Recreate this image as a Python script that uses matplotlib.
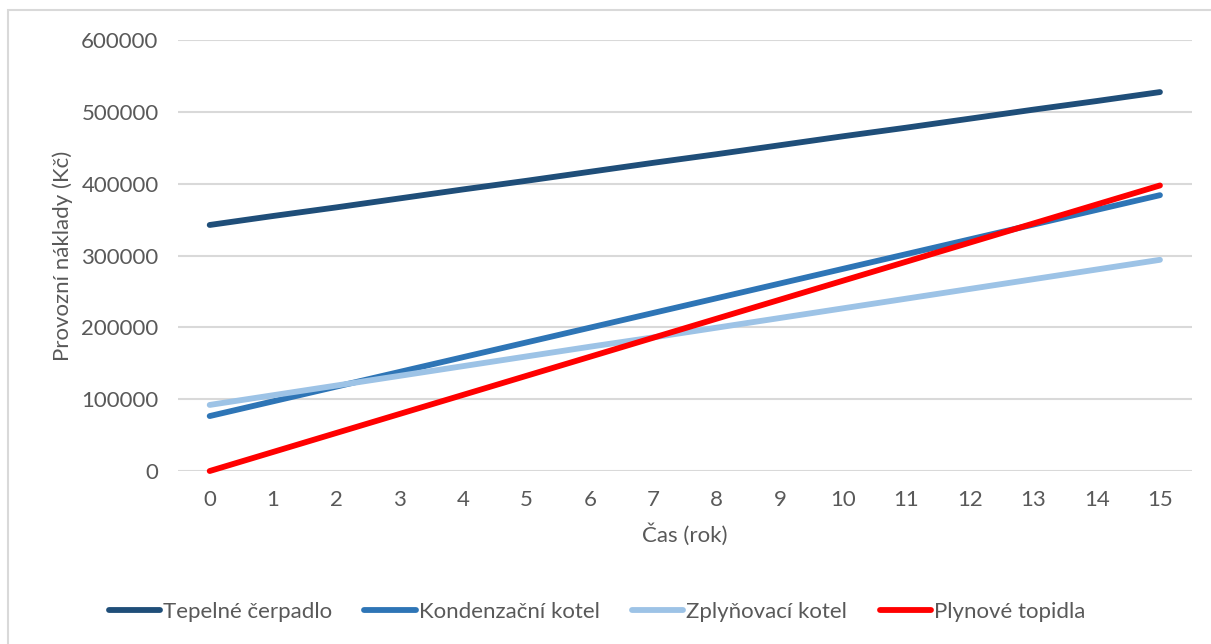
import matplotlib.pyplot as plt
from matplotlib.patches import Rectangle

# provozní náklady v jednotlivých letech (Kč)
roky = list(range(16))
tepelne_cerpadlo = [342500, 355000, 367000, 379500, 392000, 404000, 416500, 429000,
                    441000, 453500, 466000, 478000, 490500, 503000, 515000, 527500]
kondenzacni_kotel = [76500, 97000, 117500, 138000, 158500, 179000, 199500, 220000,
                     240500, 261000, 281500, 302000, 322500, 343000, 363500, 384000]
zplynovaci_kotel = [92000, 105500, 119000, 132500, 146000, 159500, 173000, 186000,
                    199500, 213000, 226500, 240000, 253500, 267000, 280500, 294000]
plynove_topidla = [0, 26500, 53000, 79500, 106000, 132500, 159000, 185500,
                   212000, 238500, 265000, 291500, 318000, 344500, 371000, 397500]

nazvy = ["Tepelné čerpadlo", "Kondenzační kotel", "Zplyňovací kotel", "Plynové topidla"]
barvy = ["#1F4E79", "#2E75B6", "#9DC3E6", "#FF0000"]

plt.rcParams["font.family"] = ["Lato", "DejaVu Sans"]
text_color = "#595959"
fs = 16

fig = plt.figure(figsize=(12.11, 6.44), dpi=100)
ax = fig.add_axes([0.147, 0.2686, 0.837, 0.6693])

for serie, nazev, barva in zip([tepelne_cerpadlo, kondenzacni_kotel, zplynovaci_kotel, plynove_topidla],
                               nazvy, barvy):
    ax.plot(roky, serie, color=barva, lw=4.2, solid_capstyle="round", label=nazev,
            zorder=3, clip_on=False)

ax.set_xlim(-0.5, 15.5)
ax.set_ylim(0, 600000)
ax.set_xticks(roky)
ax.set_yticks(range(0, 600001, 100000))
ax.grid(axis="y", color="#D9D9D9", lw=1.5, zorder=0)
for s in ax.spines.values():
    s.set_visible(False)
ax.tick_params(length=0, labelsize=fs, labelcolor=text_color)
ax.tick_params(axis="y", pad=14)
ax.tick_params(axis="x", pad=14)

ax.set_xlabel("Čas (rok)", fontsize=fs, color=text_color, labelpad=9)
ax.set_ylabel("Provozní náklady (Kč)", fontsize=fs, color=text_color, labelpad=6)

fig.legend(loc="center", bbox_to_anchor=(0.493, 0.05), ncol=4, frameon=False,
           fontsize=fs, labelcolor=text_color, handlelength=2.3, handletextpad=0.15,
           columnspacing=1.45)

# rámeček grafu (levá a horní hrana)
fig.patches.append(Rectangle((8 / 1211, -0.1), 1.2, 1 - 10 / 644 + 0.1,
                             transform=fig.transFigure, fill=False,
                             edgecolor="#D9D9D9", lw=1.5))

fig.savefig("out.png", dpi=100)
